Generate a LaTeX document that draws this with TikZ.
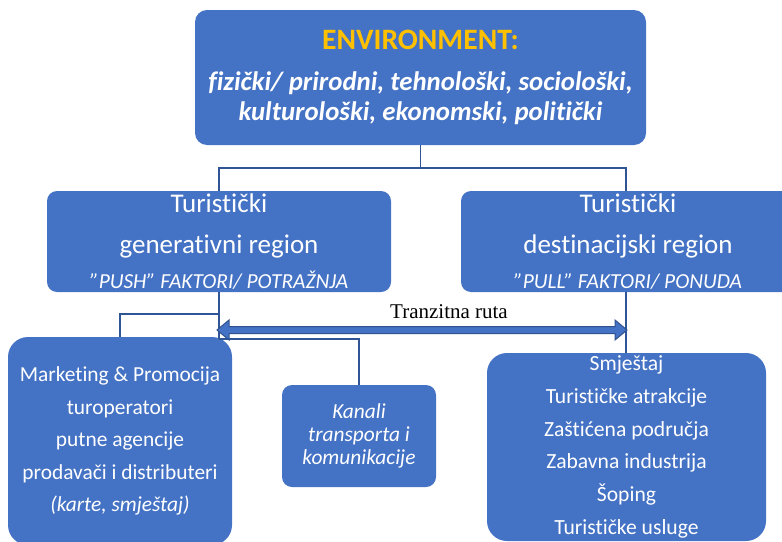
\documentclass[tikz,border=0pt]{standalone}
\usepackage{fontspec}
\setmainfont{Carlito}[Ligatures=NoCommon]
\newfontfamily\timesf{Liberation Serif}
\usetikzlibrary{calc}
\definecolor{boxblue}{HTML}{4472C4}
\definecolor{lineblue}{HTML}{2F5597}
\definecolor{arrowedge}{HTML}{2F528F}
\definecolor{envgold}{HTML}{FFC000}
\begin{document}
\begin{tikzpicture}[x=1pt,y=-1pt,
  box/.style={fill=boxblue, text=white, align=center, inner sep=0pt, rounded corners=#1},
  box/.default=10pt,
  conn/.style={draw=lineblue, line width=1.6pt},
  blockarrow/.style={fill=boxblue, draw=arrowedge, line width=1pt, line join=miter},
]
\clip (0,0) rectangle (782,541);

% top box
\node[box=12pt, minimum width=451pt, minimum height=135pt,
      font=\fontsize{26.8}{30}\selectfont\bfseries\itshape] (env) at (420.5,77.5)
  {{\fontsize{29.6}{30}\selectfont\upshape\color{envgold}ENVIRONMENT:}\\[11pt]
   fizički/ prirodni, tehnološki, sociološki,\\
   kulturološki, ekonomski, politički};

% region boxes
\node[box=10pt, minimum width=344pt, minimum height=101pt,
      font=\fontsize{27}{41}\selectfont] (gen) at (219,241.5)
  {Turistički\\
   generativni region\\[-6pt]
   {\fontsize{21.4}{22}\selectfont\itshape "PUSH" FAKTORI/ POTRAŽNJA}};
\node[box=10pt, minimum width=334pt, minimum height=101pt,
      font=\fontsize{27}{41}\selectfont] (dest) at (628,241.5)
  {Turistički\\
   destinacijski region\\[-6pt]
   {\fontsize{21.4}{22}\selectfont\itshape "PULL" FAKTORI/ PONUDA}};

% bottom boxes
\node[box=20pt, minimum width=224pt, minimum height=208pt,
      font=\fontsize{21.4}{32.5}\selectfont] (mkt) at (120,441)
  {Marketing \& Promocija\\
   turoperatori\\
   putne agencije\\
   prodavači i distributeri\\
   {\itshape (karte, smještaj)}};
\node[box=10pt, minimum width=154pt, minimum height=102pt,
      font=\fontsize{21.4}{23}\selectfont\itshape] (kan) at (359,436)
  {Kanali\\
   transporta i\\
   komunikacije};
\node[box=20pt, minimum width=279pt, minimum height=188pt,
      font=\fontsize{21.6}{32.8}\selectfont] (dst) at (626.5,447)
  {Smještaj\\
   Turističke atrakcije\\
   Zaštićena područja\\
   Zabavna industrija\\
   Šoping\\
   Turističke usluge};

% connectors
\coordinate (jtop) at (env.south |- 0,168);
\coordinate (gtop) at (219,168);
\coordinate (dtop) at (626,168);
\draw[conn] (env.south) -- (jtop);
\draw[conn] (gtop |- gen.north) -- (gtop) -- (dtop) -- (dtop |- dest.north);

\coordinate (gb) at (219,339);
\coordinate (bk) at (219,314);
\draw[conn] (gen.south) -- (gb);
\draw[conn] (bk) -- (120,314) -- (mkt.north);
\draw[conn] (gb) -- (359,339) -- (kan.north);
\draw[conn] (dest.south -| 626,0) -- (626,353);

% transit route double arrow
\coordinate (aL) at (217,330);
\coordinate (aR) at (627,330);
\draw[blockarrow] (aL) -- ($(aL)+(12,-10)$) -- ($(aL)+(12,-3.5)$) -- ($(aR)+(-12,-3.5)$)
  -- ($(aR)+(-12,-10)$) -- (aR) -- ($(aR)+(-12,10)$) -- ($(aR)+(-12,3.5)$)
  -- ($(aL)+(12,3.5)$) -- ($(aL)+(12,10)$) -- cycle;
\node[font=\timesf\fontsize{21}{24}\selectfont, anchor=base, inner sep=0pt] (tr) at (449,318) {Tranzitna ruta};
\end{tikzpicture}
\end{document}
